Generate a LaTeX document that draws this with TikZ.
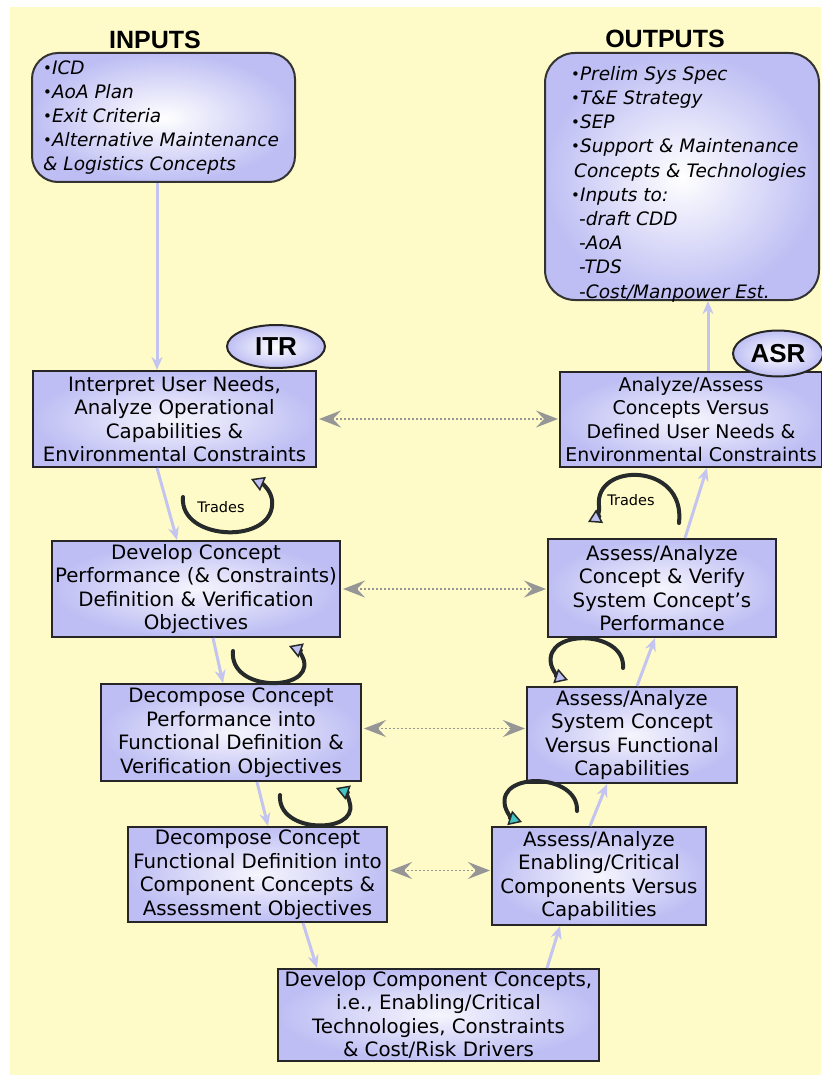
\documentclass[tikz,border=0pt]{standalone}
\usepackage{fontspec}
\setmainfont{DejaVu Sans}
\newfontfamily\titlefont{Liberation Sans}
\usetikzlibrary{arrows.meta,shapes.geometric,calc}
\definecolor{cream}{RGB}{255,251,200}
\definecolor{lav}{RGB}{190,190,244}
\definecolor{lavline}{RGB}{196,196,240}
\definecolor{dotgray}{RGB}{150,150,150}
\definecolor{loopdark}{RGB}{38,42,42}
\definecolor{tealhead}{RGB}{70,195,195}
\definecolor{lavhead}{RGB}{190,190,240}
\newcommand\bul{{\fontsize{15}{15}\selectfont\raisebox{1pt}{•}}}
\begin{document}
\begin{tikzpicture}[x=1pt,y=-1pt,
  box/.style={draw=black!85, line width=2pt, inner color=lav!15!white, outer color=lav,
    align=center, inner sep=0pt, font=\fontsize{19.8}{23.5}\selectfont},
  rbox/.style={draw=black!80, line width=2pt, rounded corners=26pt, inner color=white, outer color=lav, inner sep=0pt},
  listtext/.style={align=left, inner sep=0pt, font=\itshape\fontsize{18.5}{24}\selectfont},
  ttl/.style={font=\titlefont\bfseries\fontsize{25}{28}\selectfont, inner sep=0pt},
  oval/.style={ellipse, draw=black!85, line width=2pt, inner color=white, outer color=lav, inner sep=0pt,
    font=\titlefont\bfseries\fontsize{26}{28}\selectfont},
  flow/.style={draw=lavline, line width=3pt, -{Stealth[length=13pt,width=11pt]}},
  dotarrow/.style={draw=dotgray, line width=1.6pt, dash pattern=on 2pt off 2pt,
    {Stealth[length=22pt,width=17pt,inset=8pt,fill=dotgray]}-{Stealth[length=22pt,width=17pt,inset=8pt,fill=dotgray]}},
  loopL/.style={draw=loopdark, line width=4pt, line cap=round, -{Triangle[length=13pt,width=15pt,fill=lavhead,line width=1.5pt]}},
  loopT/.style={draw=loopdark, line width=4pt, line cap=round, -{Triangle[length=13pt,width=15pt,fill=tealhead,line width=1.5pt]}},
  trades/.style={font=\fontsize{14.5}{16}\selectfont, inner sep=0pt}
]
\useasboundingbox (0,0) rectangle (821,1075);
\fill[cream] (10,7) rectangle (821,1075);

% titles
\node[ttl] (tin) at (155,40) {INPUTS};
\node[ttl] (tout) at (665,39) {OUTPUTS};

% input / output boxes
\node[rbox, minimum width=263pt, minimum height=129pt] (IN) at (163.5,117.5) {};
\node[listtext, anchor=west] (INtxt) at (43,117.5) {\bul ICD\\ \bul AoA Plan\\ \bul Exit Criteria\\ \bul Alternative Maintenance\\ \& Logistics Concepts};
\node[rbox, minimum width=274pt, minimum height=247pt, rounded corners=30pt] (OUT) at (682,176.5) {};
\node[listtext, anchor=west, font=\itshape\fontsize{18.5}{24.2}\selectfont] (OUTtxt) at (571,184) {\bul Prelim Sys Spec\\ \bul T\&E Strategy\\ \bul SEP\\ \bul Support \& Maintenance\\ \hspace{3pt}Concepts \& Technologies\\ \bul Inputs to:\\ \hspace{8pt}-draft CDD\\ \hspace{8pt}-AoA\\ \hspace{8pt}-TDS\\ \hspace{8pt}-Cost/Manpower Est.};

% left branch
\node[box, minimum width=283pt, minimum height=96pt] (B1) at (174.5,419) {Interpret User Needs,\\ Analyze Operational\\ Capabilities \&\\ Environmental Constraints};
\node[box, minimum width=288pt, minimum height=96pt] (B2) at (196,589) {Develop Concept\\ Performance (\& Constraints)\\ Definition \& Verification\\ Objectives};
\node[box, minimum width=260pt, minimum height=97pt] (B3) at (231,732.5) {Decompose Concept\\ Performance into\\ Functional Definition \&\\ Verification Objectives};
\node[box, minimum width=259pt, minimum height=95pt] (B4) at (257.5,874.5) {Decompose Concept\\ Functional Definition into\\ Component Concepts \&\\ Assessment Objectives};
\node[box, minimum width=321pt, minimum height=92pt] (B5) at (438.5,1015) {Develop Component Concepts,\\ i.e., Enabling/Critical\\ Technologies, Constraints\\ \& Cost/Risk Drivers};

% right branch
\node[box, minimum width=214pt, minimum height=98pt] (R4) at (599,876) {Assess/Analyze\\ Enabling/Critical\\ Components Versus\\ Capabilities};
\node[box, minimum width=210pt, minimum height=96pt] (R3) at (632,735) {Assess/Analyze\\ System Concept\\ Versus Functional\\ Capabilities};
\node[box, minimum width=228pt, minimum height=98pt] (R2) at (662,588) {Assess/Analyze\\ Concept \& Verify\\ System Concept's\\ Performance};
\node[box, minimum width=262pt, minimum height=95pt, font=\fontsize{18.9}{23.5}\selectfont] (R1) at (691,419.5) {Analyze/Assess\\ Concepts Versus\\ Defined User Needs \&\\ Environmental Constraints};

% review ovals
\node[oval, minimum width=98pt, minimum height=43pt] (ITR) at (276,346.5) {ITR};
\node[oval, minimum width=90pt, minimum height=46pt] (ASR) at (778,353.5) {ASR};

% flow connectors
\draw[flow] ([xshift=-6.5pt]IN.south) -- ([xshift=-17.5pt]B1.north);
\draw[flow] ([xshift=-17.5pt]B1.south) -- ([xshift=-19pt]B2.north);
\draw[flow] ([xshift=17pt]B2.south) -- ([xshift=-8pt]B3.north);
\draw[flow] ([xshift=26pt]B3.south) -- ([xshift=10.5pt]B4.north);
\draw[flow] ([xshift=45.5pt]B4.south) -- ([xshift=-121.5pt]B5.north);
\draw[flow] ([xshift=108.5pt]B5.north) -- ([xshift=-39pt]R4.south);
\draw[flow] ([xshift=-9pt]R4.north) -- ([xshift=-25pt]R3.south);
\draw[flow] ([xshift=5pt]R3.north) -- ([xshift=-7pt]R2.south);
\draw[flow] ([xshift=23pt]R2.north) -- ([xshift=16pt]R1.south);
\draw[flow] ([xshift=17pt]R1.north) -- ([xshift=17pt]R1.north |- OUT.south);

% dotted two-way connectors
\draw[dotarrow] ([xshift=2pt]B1.east) -- ([xshift=-1pt]B1.east -| R1.west);
\draw[dotarrow] ([xshift=2pt]B2.east) -- ([xshift=-1pt]B2.east -| R2.west);
\draw[dotarrow] ([xshift=2pt,yshift=4pt]B3.east) -- ([xshift=-1pt,yshift=4pt]B3.east -| R3.west);
\draw[dotarrow] ([xshift=2pt,yshift=4pt]B4.east) -- ([xshift=-1pt,yshift=4pt]B4.east -| R4.west);

% iteration loops
\coordinate (l1s) at (183,497); \coordinate (l1e) at (251,479);
\draw[loopL] (l1s) .. controls (179,542) and (277,545) .. (272,500) .. controls (271,491) and (263,484) .. (l1e);
\node[trades] (tr1) at (221,507) {Trades};

\coordinate (r1s) at (679,523); \coordinate (r1e) at (588,522);
\draw[loopL] (r1s) .. controls (686,462) and (594,462) .. (599,506) .. controls (600,513) and (596,518) .. (r1e);
\node[trades] (tr2) at (631,500) {Trades};

\coordinate (l2s) at (233,651); \coordinate (l2e) at (289,646);
\draw[loopL] (l2s) .. controls (229,692) and (311,692) .. (304,661) .. controls (302,654) and (297,649) .. (l2e);

\coordinate (l3s) at (280,795); \coordinate (l3e) at (336,788);
\draw[loopT] (l3s) .. controls (277,834) and (357,834) .. (350,804) .. controls (349,797) and (344,791) .. (l3e);

\coordinate (r2s) at (623,668); \coordinate (r2e) at (568,680);
\draw[loopL] (r2s) .. controls (626,630) and (544,628) .. (551,664) .. controls (553,672) and (559,677) .. (r2e);

\coordinate (r3s) at (577,811); \coordinate (r3e) at (522,822);
\draw[loopT] (r3s) .. controls (579,773) and (497,771) .. (505,806) .. controls (507,814) and (513,819) .. (r3e);
\end{tikzpicture}
\end{document}
